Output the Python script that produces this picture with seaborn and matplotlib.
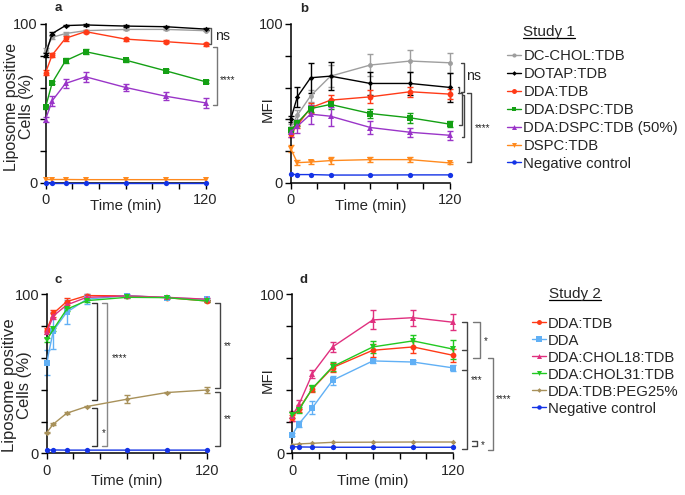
import matplotlib
matplotlib.use("Agg")
import matplotlib.pyplot as plt
from matplotlib.lines import Line2D
import seaborn as sns

time_min = [0, 5, 15, 30, 60, 90, 120]

# ---- Study 1 ----
study1_groups = ["DC-CHOL:TDB", "DOTAP:TDB", "DDA:TDB", "DDA:DSPC:TDB",
                 "DDA:DSPC:TDB (50%)", "DSPC:TDB", "Negative control"]

# panel a: liposome positive cells (%)
a_dcchol = [83.6, 91.6, 94.0, 95.8, 96.6, 96.6, 95.8]
a_dotap = [80.5, 94.0, 99.0, 99.4, 98.7, 98.3, 96.8]
a_ddatdb = [69.3, 80.5, 91.0, 95.2, 90.5, 88.9, 87.2]
a_ddadspc = [47.5, 63.0, 76.9, 82.6, 77.3, 70.6, 63.7]
a_ddadspc50 = [39.9, 51.7, 62.6, 66.8, 60.1, 54.6, 50.4]
a_dspctdb = [2.2, 2.2, 2.2, 2.1, 2.1, 2.1, 2.1]
a_neg = [0.2, 0.2, 0.2, 0.2, 0.2, 0.2, 0.2]
a_err_dcchol = [1.0, 1.0, 1.0, 0.5, 0.5, 0.5, 0.5]
a_err_dotap = [1.0, 1.0, 0.5, 0.5, 0.5, 0.5, 0.5]
a_err_ddatdb = [1.5, 1.5, 1.5, 1.0, 1.0, 1.0, 1.0]
a_err_ddadspc = [1.0, 1.0, 1.5, 1.5, 1.0, 1.0, 1.0]
a_err_ddadspc50 = [1.5, 3.0, 3.0, 3.0, 2.0, 2.5, 3.0]

# panel b: MFI
b_dcchol = [34.9, 42.6, 54.8, 67.2, 74.2, 76.7, 75.6]
b_dotap = [40.1, 54.2, 66.2, 67.2, 62.6, 62.6, 60.1]
b_ddatdb = [31.1, 36.3, 47.3, 52.1, 54.2, 57.4, 55.9]
b_ddadspc = [33.2, 37.8, 46.8, 49.4, 43.7, 41.0, 37.0]
b_ddadspc50 = [32.1, 35.7, 43.3, 42.0, 34.9, 31.9, 30.0]
b_dspctdb = [21.6, 12.8, 13.2, 14.1, 14.7, 14.7, 12.6]
b_neg = [5.5, 5.3, 5.3, 5.0, 5.0, 5.1, 5.1]
b_err_dcchol = [2.0, 3.0, 4.0, 7.0, 6.8, 6.8, 6.4]
b_err_dotap = [2.0, 6.3, 9.5, 9.0, 7.0, 7.0, 9.0]
b_err_ddatdb = [2.0, 2.0, 3.0, 3.0, 4.0, 3.0, 3.0]
b_err_ddadspc = [2.0, 2.0, 2.0, 3.0, 3.0, 3.0, 2.0]
b_err_ddadspc50 = [3.0, 4.0, 6.0, 6.0, 4.0, 3.0, 3.0]
b_err_dspctdb = [2.0, 1.5, 1.5, 2.0, 1.5, 1.5, 0.5]

# ---- Study 2 ----
study2_groups = ["DDA:TDB", "DDA", "DDA:CHOL18:TDB", "DDA:CHOL31:TDB",
                 "DDA:TDB:PEG25%", "Negative control"]

# panel c: liposome positive cells (%)
c_ddatdb = [77.6, 88.0, 95.4, 99.2, 99.0, 97.9, 95.8]
c_dda = [57.0, 77.1, 88.7, 96.9, 99.2, 97.9, 96.9]
c_chol18 = [76.0, 86.4, 93.3, 98.1, 99.0, 98.1, 96.9]
c_chol31 = [71.3, 78.0, 90.6, 96.0, 98.1, 97.9, 95.8]
c_peg = [13.0, 18.4, 25.2, 29.4, 34.0, 38.2, 39.8]
c_neg = [2.1, 2.1, 2.0, 2.0, 2.0, 2.0, 2.0]
c_err_ddatdb = [1.5, 2.0, 2.0, 1.0, 0.5, 0.5, 0.5]
c_err_dda = [7.8, 11.7, 7.6, 3.0, 1.0, 1.0, 1.0]
c_err_chol18 = [1.0, 2.0, 2.0, 1.0, 0.5, 0.5, 0.5]
c_err_chol31 = [1.0, 1.0, 1.0, 1.0, 0.5, 0.5, 0.5]
c_err_peg = [0.5, 0.5, 0.5, 0.5, 2.5, 0.5, 2.0]

# panel d: MFI
d_ddatdb = [22.4, 28.1, 40.6, 53.9, 64.8, 66.9, 61.6]
d_dda = [11.7, 18.6, 28.7, 45.9, 58.1, 57.4, 53.7]
d_chol18 = [23.5, 30.8, 50.1, 66.9, 83.9, 85.3, 82.4]
d_chol31 = [24.0, 27.3, 40.9, 54.5, 66.9, 70.7, 65.5]
d_peg = [5.5, 5.9, 6.3, 6.9, 7.0, 7.1, 7.1]
d_neg = [4.2, 4.0, 3.9, 3.8, 3.8, 3.8, 3.8]
d_err_ddatdb = [2.0, 2.0, 2.0, 3.0, 4.0, 4.0, 4.0]
d_err_dda = [1.0, 2.0, 4.0, 3.0, 1.0, 1.0, 2.0]
d_err_chol18 = [3.0, 3.0, 2.5, 3.0, 6.0, 5.0, 5.0]
d_err_chol31 = [2.0, 2.0, 2.0, 3.0, 4.0, 4.0, 6.0]

# styles
s1_colors = ["#9E9E9E", "#000000", "#FF3A17", "#14A014", "#9A35C8", "#FF8A1E", "#1433E6"]
s1_markers = ["o", "D", "o", "s", "^", "v", "o"]
s1_sizes = [3.5, 2.8, 4.2, 4.0, 4.2, 4.2, 3.8]
s2_colors = ["#FF3A17", "#61B0F5", "#E0307F", "#22C922", "#A8915A", "#1433E6"]
s2_markers = ["o", "s", "^", "v", "D", "o"]
s2_sizes = [4.2, 4.8, 4.2, 4.2, 2.8, 3.8]

sns.set_theme(style="ticks")
plt.rcParams["font.family"] = ["Liberation Sans", "DejaVu Sans"]

W, H = 685, 495
fig = plt.figure(figsize=(W / 100, H / 100), dpi=100)


def add_axes(left, top, right, bottom):
    return fig.add_axes([left / W, 1 - bottom / H, (right - left) / W, (bottom - top) / H])


ax_a = add_axes(45.5, 24, 205.5, 183)
ax_b = add_axes(290.7, 24, 450, 183)
ax_c = add_axes(46.7, 294.3, 206.7, 453.3)
ax_d = add_axes(292.3, 294.3, 453.3, 453.3)


def draw_panel(ax, series, errors, colors, markers, sizes):
    for vals, err, col, mk, ms in zip(series, errors, colors, markers, sizes):
        if err is not None:
            ax.errorbar(time_min, vals, yerr=err, fmt="none", ecolor=col,
                        elinewidth=1, capsize=2.5, capthick=1, clip_on=False, zorder=2)
        sns.lineplot(x=time_min, y=vals, color=col, marker=mk, markersize=ms,
                     markeredgewidth=0, linewidth=1, ax=ax, clip_on=False, zorder=3)
    ax.set_xlim(0, 120)
    ax.set_ylim(0, 100)
    ax.set_xticks(range(0, 121, 20))
    ax.set_xticklabels(["0", "", "", "", "", "", "120"])
    ax.set_yticks(range(0, 101, 20))
    ax.set_yticklabels(["0", "", "", "", "", "100"])
    ax.tick_params(axis="both", labelsize=10.5, length=4, width=1, color="black")
    ax.tick_params(axis="y", pad=1.5)
    sns.despine(ax=ax)
    for sp in ("left", "bottom"):
        ax.spines[sp].set_linewidth(1.1)
        ax.spines[sp].set_color("black")
    ax.set_xlabel("Time (min)", fontsize=10.8)


draw_panel(ax_a,
           [a_dcchol, a_dotap, a_ddatdb, a_ddadspc, a_ddadspc50, a_dspctdb, a_neg],
           [a_err_dcchol, a_err_dotap, a_err_ddatdb, a_err_ddadspc, a_err_ddadspc50, None, None],
           s1_colors, s1_markers, s1_sizes)
draw_panel(ax_b,
           [b_dcchol, b_dotap, b_ddatdb, b_ddadspc, b_ddadspc50, b_dspctdb, b_neg],
           [b_err_dcchol, b_err_dotap, b_err_ddatdb, b_err_ddadspc, b_err_ddadspc50, b_err_dspctdb, None],
           s1_colors, s1_markers, s1_sizes)
draw_panel(ax_c,
           [c_ddatdb, c_dda, c_chol18, c_chol31, c_peg, c_neg],
           [c_err_ddatdb, c_err_dda, c_err_chol18, c_err_chol31, c_err_peg, None],
           s2_colors, s2_markers, s2_sizes)
draw_panel(ax_d,
           [d_ddatdb, d_dda, d_chol18, d_chol31, d_peg, d_neg],
           [d_err_ddatdb, d_err_dda, d_err_chol18, d_err_chol31, None, None],
           s2_colors, s2_markers, s2_sizes)

# axis labels
ax_a.set_ylabel("Liposome positive\nCells (%)", fontsize=11.5, linespacing=0.95)
ax_c.set_ylabel("Liposome positive\nCells (%)", fontsize=12, linespacing=0.95)
ax_b.set_ylabel("MFI", fontsize=10.8)
ax_d.set_ylabel("MFI", fontsize=10.8)
ax_a.yaxis.set_label_coords(-0.075, 0.48)
ax_c.yaxis.set_label_coords(-0.094, 0.43)
ax_b.yaxis.set_label_coords(-0.098, 0.465)
ax_d.yaxis.set_label_coords(-0.107, 0.46)
for ax in (ax_a, ax_b):
    ax.xaxis.set_label_coords(0.5, -0.10)
for ax in (ax_c, ax_d):
    ax.xaxis.set_label_coords(0.5, -0.13)

# panel letters
for s, x, y in [("a", 58, 11), ("b", 304, 11.5), ("c", 58.3, 283), ("d", 303.3, 283)]:
    fig.text(x / W, 1 - y / H, s, ha="center", va="baseline", fontsize=9.5, fontweight="bold")


# significance brackets
def bracket(ax, x, y0, y1, w, color="#444444"):
    ax.plot([x - w, x, x, x - w], [y0, y0, y1, y1], color=color, lw=1,
            clip_on=False, zorder=1)


def star(ax, x, y, s, size=7, ha="left"):
    ax.text(x, y, s, fontsize=size, ha=ha, va="center", clip_on=False)


bracket(ax_a, 124.4, 97.3, 87.2, 2.8, "#555555")
star(ax_a, 127.1, 92.5, "ns", size=10.2)
bracket(ax_a, 128.6, 85.3, 49.1, 3.0, "#777777")
star(ax_a, 131.0, 65.0, "****")

bracket(ax_b, 130.8, 75.3, 57.4, 2.2)
star(ax_b, 132.4, 67.5, "ns", size=10.2)
bracket(ax_b, 127.0, 60.6, 56.4, 1.3)
bracket(ax_b, 128.8, 56.4, 36.5, 1.8)
bracket(ax_b, 130.8, 55.3, 28.7, 2.0)
bracket(ax_b, 135.6, 56.4, 13.4, 3.0)
star(ax_b, 138.8, 34.5, "****")

bracket(ax_c, 37.5, 94.3, 33.5, 3.7, "#333333")
bracket(ax_c, 37.5, 28.3, 4.8, 3.7, "#333333")
star(ax_c, 41.0, 13.0, "*")
bracket(ax_c, 45.0, 94.3, 4.8, 3.7, "#888888")
star(ax_c, 48.5, 60.0, "****")
bracket(ax_c, 130.0, 94.3, 40.9, 3.7)
bracket(ax_c, 130.0, 38.7, 4.8, 3.7)
star(ax_c, 133.2, 67.4, "**")
star(ax_c, 133.2, 21.4, "**")

bracket(ax_d, 139.9, 82.4, 60.1, 5.2, "#777777")
star(ax_d, 142.6, 70.6, "*")
bracket(ax_d, 130.0, 82.4, 2.5, 3.7)
for yy in (65.0, 52.4):
    ax_d.plot([126.3, 130.0], [yy, yy], color="#444444", lw=1, clip_on=False)
star(ax_d, 133.0, 46.0, "***")
bracket(ax_d, 149.8, 60.1, 2.1, 3.7, "#777777")
star(ax_d, 151.5, 34.4, "****")
bracket(ax_d, 137.4, 7.8, 4.8, 3.7)
star(ax_d, 140.5, 5.1, "*")


# legends
def make_legend(groups, colors, markers, sizes, x_px, top_px, spacing):
    handles = [Line2D([], [], color=c, marker=m, markersize=ms * 0.85, lw=1,
                      markeredgewidth=0) for c, m, ms in zip(colors, markers, sizes)]
    fig.legend(handles, groups, loc="upper left",
               bbox_to_anchor=(x_px / W, 1 - top_px / H), frameon=False,
               fontsize=10.7, handlelength=0.95, handletextpad=0.15,
               labelspacing=spacing, borderpad=0, borderaxespad=0)


make_legend(study1_groups, s1_colors, s1_markers, s1_sizes, 507, 49.5, 0.26)
make_legend(study2_groups, s2_colors, s2_markers, s2_sizes, 531.7, 316.7, 0.2)

titles = [fig.text(523 / W, 1 - 36 / H, "Study 1", fontsize=11, va="baseline"),
          fig.text(548.7 / W, 1 - 297.7 / H, "Study 2", fontsize=11, va="baseline")]
fig.canvas.draw()
renderer = fig.canvas.get_renderer()
for t in titles:
    bb = t.get_window_extent(renderer)
    x0, x1 = bb.x0 / W, bb.x1 / W
    yb = (t.get_position()[1] * H - 2.2) / H
    fig.add_artist(Line2D([x0, x1], [yb, yb], color="black", lw=0.9,
                          transform=fig.transFigure))

fig.savefig("out.png", dpi=100)
